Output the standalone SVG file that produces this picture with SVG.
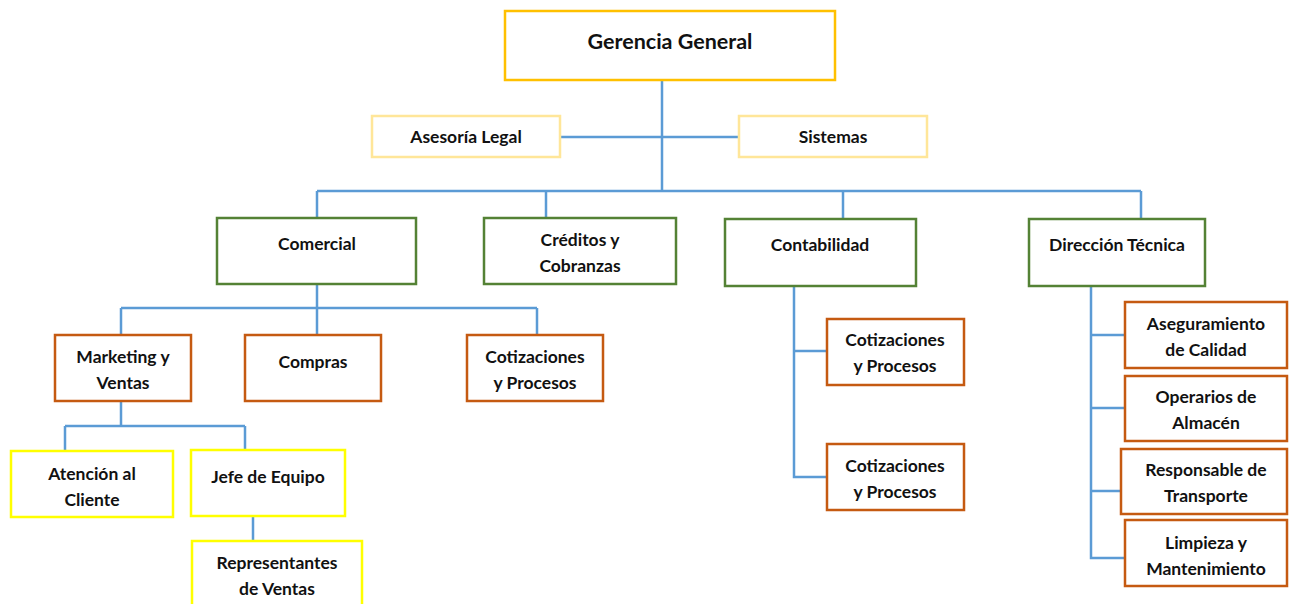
<svg xmlns="http://www.w3.org/2000/svg" width="1293" height="604" viewBox="0 0 1293 604">
<style>
text{font-family:Lato,"Open Sans","Liberation Sans",sans-serif;font-weight:bold;font-size:17.5px;fill:#111;text-anchor:middle}
.box{fill:#fff;stroke-width:2.5}
.gold{stroke:#FFC000}
.lgold{stroke:#FFE699}
.green{stroke:#548235}
.orange{stroke:#C55A11}
.yellow{stroke:#FFFF00}
#connectors path{fill:none;stroke:#5B9BD5;stroke-width:2.5}
</style>
<rect width="1293" height="604" fill="#fff"/>
<g id="connectors">
<path d="M662 80V191M560 137H739M317 191H1141M317 191V218M546 191V218M843 191V219M1141 191V219"/>
<path d="M317 284V308M121 308H537M121 308V335M317 308V335M537 308V335"/>
<path d="M121 401V426M65 426H245M65 426V451M245 426V450M253 516V541"/>
<path d="M794 286V477H827M794 351H827"/>
<path d="M1091 286V558H1125M1091 335H1125M1091 408H1125M1091 491H1121"/>
</g>
<g id="gerencia"><rect class="box gold" x="505" y="11" width="330" height="69"/><text x="670" y="49" style="font-size:21.5px">Gerencia General</text></g>
<g id="asesoria"><rect class="box lgold" x="372" y="116" width="188" height="41"/><text x="466" y="143">Asesoría Legal</text></g>
<g id="sistemas"><rect class="box lgold" x="739" y="116" width="188" height="41"/><text x="833" y="143">Sistemas</text></g>
<g id="comercial"><rect class="box green" x="217" y="218" width="199" height="66"/><text x="317" y="250">Comercial</text></g>
<g id="creditos"><rect class="box green" x="484" y="218" width="192" height="66"/><text x="580" y="246">Créditos y</text><text x="580" y="272">Cobranzas</text></g>
<g id="contabilidad"><rect class="box green" x="725" y="219" width="191" height="67"/><text x="820" y="251">Contabilidad</text></g>
<g id="direccion"><rect class="box green" x="1029" y="219" width="176" height="67"/><text x="1117" y="251">Dirección Técnica</text></g>
<g id="marketing"><rect class="box orange" x="55" y="335" width="136" height="66"/><text x="123" y="363">Marketing y</text><text x="123" y="389">Ventas</text></g>
<g id="compras"><rect class="box orange" x="245" y="335" width="136" height="66"/><text x="313" y="368">Compras</text></g>
<g id="cotizaciones1"><rect class="box orange" x="467" y="335" width="136" height="66"/><text x="535" y="363">Cotizaciones</text><text x="535" y="389">y Procesos</text></g>
<g id="cotizaciones2"><rect class="box orange" x="827" y="319" width="137" height="66"/><text x="895" y="346">Cotizaciones</text><text x="895" y="372">y Procesos</text></g>
<g id="cotizaciones3"><rect class="box orange" x="827" y="444" width="137" height="66"/><text x="895" y="472">Cotizaciones</text><text x="895" y="498">y Procesos</text></g>
<g id="aseguramiento"><rect class="box orange" x="1125" y="302" width="162" height="66"/><text x="1206" y="330">Aseguramiento</text><text x="1206" y="356">de Calidad</text></g>
<g id="operarios"><rect class="box orange" x="1125" y="376" width="162" height="65"/><text x="1206" y="403">Operarios de</text><text x="1206" y="429">Almacén</text></g>
<g id="responsable"><rect class="box orange" x="1121" y="449" width="166" height="65"/><text x="1206" y="476">Responsable de</text><text x="1206" y="502">Transporte</text></g>
<g id="limpieza"><rect class="box orange" x="1125" y="520" width="162" height="66"/><text x="1206" y="549">Limpieza y</text><text x="1206" y="575">Mantenimiento</text></g>
<g id="atencion"><rect class="box yellow" x="11" y="451" width="162" height="66"/><text x="92" y="480">Atención al</text><text x="92" y="506">Cliente</text></g>
<g id="jefe"><rect class="box yellow" x="191" y="450" width="154" height="66"/><text x="268" y="483">Jefe de Equipo</text></g>
<g id="representantes"><rect class="box yellow" x="192" y="541" width="170" height="70"/><text x="277" y="569">Representantes</text><text x="277" y="595">de Ventas</text></g>
</svg>
